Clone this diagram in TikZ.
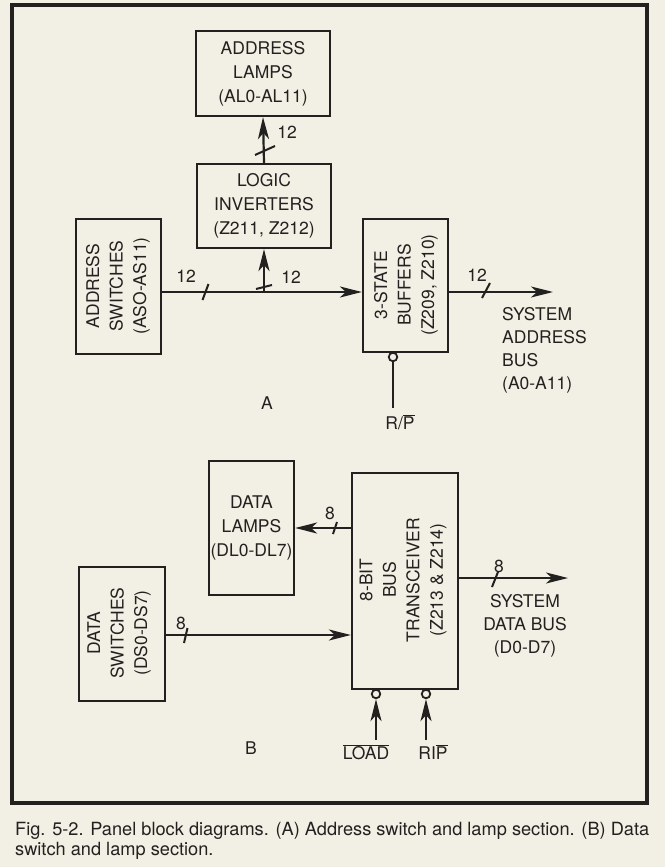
\documentclass[tikz,border=0pt]{standalone}
\usepackage{fontspec}
\setmainfont{TeX Gyre Heros}
\usetikzlibrary{arrows.meta}
\definecolor{ink}{RGB}{35,33,32}
\definecolor{paper}{RGB}{242,240,228}
\begin{document}
\begin{tikzpicture}[x=1pt,y=-1pt,
  blk/.style={draw=ink, line width=2.2pt, inner sep=0pt},
  txt/.style={text=ink, font=\fontsize{17.5}{24}\selectfont, align=center, inner sep=0pt},
  rtxt/.style={text=ink, font=\fontsize{17.5}{23.5}\selectfont, align=center, inner sep=0pt, rotate=90},
  arr/.style={draw=ink, line width=2.2pt, -{Stealth[length=22pt,width=11pt,inset=6pt]}},
  ln/.style={draw=ink, line width=2.2pt},
  tick/.style={draw=ink, line width=2pt},
  bub/.style={circle, draw=ink, fill=paper, line width=1.8pt, minimum size=8.5pt, inner sep=0pt},
  lbl/.style={text=ink, font=\fontsize{17.5}{20}\selectfont, inner sep=0pt}]
% paper and bounding box
\fill[paper] (0,0) rectangle (665,867);
\draw[ink, line width=3.5pt] (12,5) rectangle (647,803);

% ---------------- Section A ----------------
\node[blk, txt, minimum width=134pt, minimum height=85pt] (al) at (263,73.5) {ADDRESS\\LAMPS\\(AL0-AL11)};
\node[blk, txt, minimum width=134pt, minimum height=84pt] (li) at (264,206) {LOGIC\\INVERTERS\\(Z211, Z212)};
\node[blk, minimum width=85pt, minimum height=135pt] (asw) at (118.5,286.5) {};
\node[rtxt] (aswt) at (118,286) {ADDRESS\\SWITCHES\\(ASO-AS11)};
\node[blk, minimum width=85pt, minimum height=133pt] (tsb) at (405.5,285.5) {};
\node[rtxt] (tsbt) at (406,285) {3-STATE\\BUFFERS\\(Z209, Z210)};
\node[text=ink, font=\fontsize{17.5}{23}\selectfont, align=left, inner sep=0pt, anchor=west] (sab) at (502,350.5) {SYSTEM\\ADDRESS\\BUS\\(A0-A11)};

\coordinate (ja) at (264,292);
\coordinate (sabtip) at (553,292);
\draw[arr] (li.north) -- (al.south);
\draw[arr] (asw.east |- ja) -- (tsb.west |- ja);
\draw[arr] (ja) -- (li.south);
\draw[arr] (tsb.east |- ja) -- (sabtip);

\node[bub] (b1) at (393,357) {};
\coordinate (rpend) at (393,408);
\draw[ln] (b1.south) -- (rpend);

\draw[tick] (255,155) -- (275,146);
\draw[tick] (256,289) -- (272,285);
\draw[tick] (202.5,300) -- (208.5,284);
\draw[tick] (482,298) -- (490,283);

\node[lbl] (n1) at (287,132) {12};
\node[lbl] (n2) at (186,276) {12};
\node[lbl] (n3) at (291,277) {12};
\node[lbl] (n4) at (477,275) {12};
\node[lbl] (la) at (267,403) {A};
\node[lbl] (rp) at (400,422) {R/$\overline{\hbox{P}}$};

% ---------------- Section B ----------------
\node[blk, txt, minimum width=85pt, minimum height=134pt] (dl) at (251.5,528) {DATA\\LAMPS\\(DL0-DL7)};
\node[blk, minimum width=86pt, minimum height=134pt] (dsw) at (122,634) {};
\node[rtxt] (dswt) at (119,633) {DATA\\SWITCHES\\(DS0-DS7)};
\node[blk, minimum width=106pt, minimum height=216pt] (tr) at (405,581) {};
\node[rtxt] (trt) at (403,580) {8-BIT\\BUS\\TRANSCEIVER\\(Z213 \& Z214)};
\node[txt, font=\fontsize{17.5}{23}\selectfont] (sdb) at (525,626) {SYSTEM\\DATA BUS\\(D0-D7)};

\coordinate (jdl) at (0,528);
\coordinate (jds) at (0,635);
\coordinate (sdbtip) at (568,578);
\draw[arr] (tr.west |- jdl) -- (dl.east |- jdl);
\draw[arr] (dsw.east |- jds) -- (tr.west |- jds);
\draw[arr] (tr.east |- sdbtip) -- (sdbtip);

\node[bub] (b2) at (376,694) {};
\node[bub] (b3) at (426,694) {};
\coordinate (lds) at (376,740);
\coordinate (rps) at (426,740);
\draw[arr] (lds) -- (b2.south);
\draw[arr] (rps) -- (b3.south);

\draw[tick] (333,534) -- (337,522);
\draw[tick] (184,643) -- (187.5,628);
\draw[tick] (492,587) -- (498,572);

\node[lbl] (n5) at (330,513) {8};
\node[lbl] (n6) at (181,623) {8};
\node[lbl] (n7) at (499,566) {8};
\node[lbl] (lb) at (251,748) {B};
\node[lbl] (ld) at (366,752) {$\overline{\hbox{LOAD}}$};
\node[lbl] (ri) at (433,752) {RI$\overline{\hbox{P}}$};

% caption
\node[anchor=north west, text=ink, font=\fontsize{18.2}{20.5}\selectfont, align=left, inner sep=0pt] (cap) at (15,822) {Fig. 5-2. Panel block diagrams. (A) Address switch and lamp section. (B) Data\\switch and lamp section.};
\end{tikzpicture}
\end{document}
